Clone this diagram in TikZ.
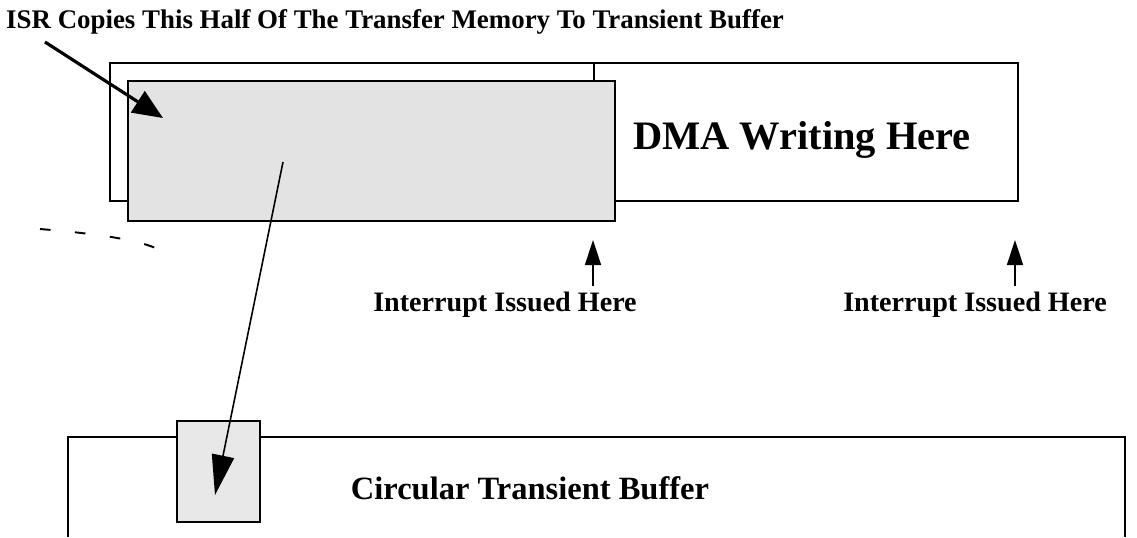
\documentclass[tikz,border=0pt]{standalone}
\usepackage{fontspec}
\setmainfont{Liberation Serif}
\usetikzlibrary{arrows.meta}
\begin{document}
\begin{tikzpicture}[x=0.2mm,y=-0.2mm,font=\bfseries]
  \tikzstyle{buffer box}=[draw,line width=0.9pt,inner sep=0,anchor=north west]
  \tikzstyle{shaded box}=[draw,line width=1.4pt,fill=black!11,inner sep=0,anchor=north west]
  \tikzstyle{big arrow}=[line width=1.8pt,-{Triangle[length=6mm,width=5mm]}]
  \tikzstyle{copy arrow}=[line width=0.9pt,-{Triangle[length=8mm,width=4.5mm]}]
  \tikzstyle{irq arrow}=[line width=0.9pt,-{Triangle[length=5mm,width=3.2mm]}]
  \tikzstyle{irq label}=[font=\bfseries\fontsize{16}{18}\selectfont]

  \useasboundingbox (0,0) rectangle (1137,537);

  % transfer memory, two halves
  \node(mem)[buffer box,minimum width=181.6mm,minimum height=27.6mm] at (109,62) {};
  \draw[line width=0.9pt] (594,62) -- (594,80);
  \node(half)[shaded box,minimum width=97.4mm,minimum height=28mm] at (127,80) {};
  \node(dma)[font=\bfseries\fontsize{23}{27}\selectfont] at (802,140) {DMA Writing Here};

  \node(title)[anchor=west,font=\bfseries\fontsize{15.3}{18}\selectfont] at (0,22)
      {ISR Copies This Half Of The Transfer Memory To Transient Buffer};
  \draw[big arrow] (45,42) -- (163,118);

  % interrupt points
  \node(int1)[irq label] at (505,305) {Interrupt Issued Here};
  \node(int2)[irq label] at (975,305) {Interrupt Issued Here};
  \coordinate(up1) at (593,240);
  \coordinate(up2) at (1015,240);
  \draw[irq arrow] (int1.north -| up1) -- (up1);
  \draw[irq arrow] (int2.north -| up2) -- (up2);

  \draw[dashed,dash pattern=on 6pt off 14pt,line width=1.1pt] (40,229) .. controls (100,234) and (140,240) .. (160,250);

  % circular transient buffer
  \draw[line width=0.9pt] (68,537) -- (68,437) -- (1125,437) -- (1125,537);
  \node(ctb)[font=\bfseries\fontsize{18.5}{22}\selectfont] at (530,488) {Circular Transient Buffer};
  \node(slot)[shaded box,line width=0.9pt,fill=black!9,minimum width=16.6mm,minimum height=20.2mm] at (176,420) {};

  \coordinate(src) at (283,162);
  \draw[copy arrow] (src) -- (215,495);
\end{tikzpicture}
\end{document}
